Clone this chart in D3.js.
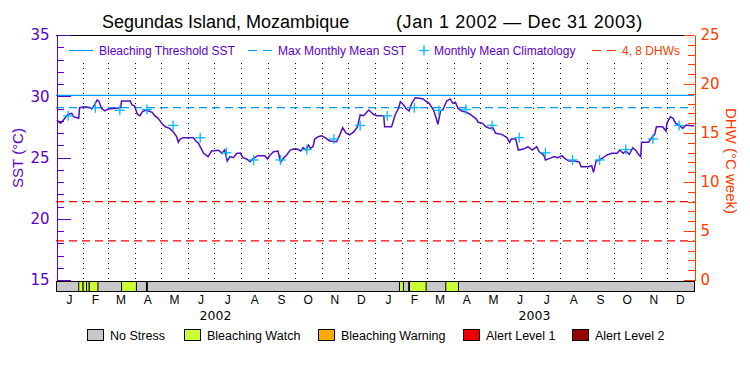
<!DOCTYPE html>
<html>
<head>
<meta charset="utf-8">
<script src="https://cdn.jsdelivr.net/npm/d3@7"></script>
<style>
  body { margin: 0; background: #fff; }
  svg { display: block; }
</style>
</head>
<body>
<div id="chart"></div>
<script>
// SST time series: day offset from Jan 1 2002, SST in °C
const sstDays = [1,5,7,10,14,18,20,24,26,27,33,39,41,44,47,49,52,56,60,69,74,75,85,87,90,93,96,99,103,106,110,113,117,121,125,130,134,138,140,142,146,157,160,163,166,169,174,178,186,190,193,196,199,203,207,211,214,218,222,226,231,239,242,245,249,254,257,260,264,268,272,277,280,283,286,289,291,294,296,300,304,308,313,321,325,328,332,336,341,345,348,352,356,358,363,367,375,376,384,388,392,394,397,401,404,407,411,416,420,423,427,432,435,437,440,443,447,451,454,457,460,464,470,476,481,483,488,492,496,500,503,510,516,519,521,526,529,535,540,545,550,553,558,560,565,570,574,579,582,587,594,599,601,609,613,615,618,622,626,630,636,642,645,649,652,656,660,664,667,669,670,678,681,685,687,694,698,699,703,706,709,713,717,721,727,730];
const sstValues = [28.06,27.79,27.92,28.20,28.53,28.61,28.33,28.25,28.20,29.07,29.15,29.07,28.96,29.29,29.69,29.61,29.02,28.80,28.96,29.02,29.07,29.61,29.61,29.29,29.20,28.53,28.41,28.74,28.88,28.80,28.69,28.41,28.20,27.79,27.51,27.38,27.11,26.70,26.24,26.51,26.62,26.62,26.35,26.16,25.75,25.34,25.07,25.53,25.59,25.34,25.61,24.71,25.07,24.98,25.34,25.34,24.98,24.88,24.66,24.93,25.15,25.15,24.88,25.20,25.47,25.53,24.61,24.93,25.20,25.61,25.69,25.67,25.53,25.80,25.61,26.02,25.75,25.88,26.51,26.70,26.78,26.62,26.35,26.29,26.89,27.43,26.98,26.84,27.11,27.51,28.47,28.41,28.74,28.88,28.53,28.41,28.41,27.51,27.51,28.47,29.02,29.56,29.34,28.96,28.80,29.42,29.88,29.83,29.78,29.61,29.42,28.88,28.20,27.71,28.80,28.96,29.61,29.78,29.42,29.51,29.02,28.80,28.69,28.41,28.14,27.87,27.79,27.51,27.38,27.43,26.98,26.89,26.62,26.24,26.51,26.51,25.61,25.69,25.88,25.61,25.88,25.47,25.20,24.80,24.93,25.07,24.98,25.15,24.93,24.71,24.71,24.61,24.25,24.25,24.33,23.79,24.71,24.80,24.98,25.20,25.34,25.34,25.61,25.34,25.53,25.26,25.80,25.53,25.20,25.07,26.24,26.24,26.57,26.89,27.51,27.51,27.16,27.79,28.33,28.20,27.79,27.65,27.38,27.65,27.60,27.60];

// Monthly mean climatology (Jan..Dec)
const climValues = [28.40, 29.07, 28.85, 28.92, 27.62, 26.62, 25.39, 24.80, 24.80, 25.65, 26.51, 27.62];
const maxMonthlyMean = 29.07;
const bleachingThreshold = 30.07;
const dhwLevels = [4, 8];

// Stress bar segments: [start day, end day, level]
const stressSegments = [
  [26, 31, 1], [31, 35, 1], [35, 38, 1], [38, 48, 1],
  [75, 92, 1], [103.5, 104.5, 1],
  [393, 397.5, 1], [403.5, 404.5, 1], [404.5, 423.5, 1], [446, 460.5, 1]
];

const monthLabels = ["J", "F", "M", "A", "M", "J", "J", "A", "S", "O", "N", "D"];
const years = [2002, 2003];
const stressNames = ["No Stress", "Bleaching Watch", "Bleaching Warning", "Alert Level 1", "Alert Level 2"];
const stressColors = ["#c8c8c8", "#ccff33", "#ffaa00", "#ee0000", "#990000"];

const purple = "#5a00cc";
const lineColor = "#5010c0";
const blue = "#0099ff";
const cyan = "#00bbff";
const orange = "#ff3c00";

const width = 750, height = 375;
const plot = { left: 56, right: 694, top: 35, bottom: 280 };

const start = new Date(Date.UTC(2002, 0, 1));
const dayToDate = d => new Date(start.getTime() + d * 864e5);

const svg = d3.select("#chart").append("svg")
  .attr("width", width)
  .attr("height", height)
  .style("font-family", "'Liberation Sans', Arial, sans-serif");

const x = d3.scaleUtc()
  .domain([start, new Date(Date.UTC(2004, 0, 1))])
  .range([plot.left, plot.right]);
const ySST = d3.scaleLinear().domain([15, 35]).range([plot.bottom, plot.top]);
const yDHW = d3.scaleLinear().domain([0, 25]).range([plot.bottom, plot.top]);

// Title
svg.append("text").attr("x", 102).attr("y", 28).attr("font-size", 18)
  .text("Segundas Island, Mozambique");
svg.append("text").attr("x", 396).attr("y", 28).attr("font-size", 18)
  .attr("letter-spacing", 0.6)
  .text("(Jan 1 2002 \u2014 Dec 31 2003)");

// Month boundary dotted lines
const monthStarts = d3.utcMonth.range(new Date(Date.UTC(2002, 1, 1)), new Date(Date.UTC(2004, 0, 1)));
svg.append("g").selectAll("line")
  .data(monthStarts)
  .join("line")
  .attr("x1", d => Math.round(x(d)) + 0.5)
  .attr("x2", d => Math.round(x(d)) + 0.5)
  .attr("y1", 63)
  .attr("y2", plot.bottom)
  .attr("stroke", "#000")
  .attr("stroke-dasharray", "1,4");

// Threshold lines
svg.append("line")
  .attr("x1", plot.left).attr("x2", plot.right)
  .attr("y1", ySST(bleachingThreshold)).attr("y2", ySST(bleachingThreshold))
  .attr("stroke", blue).attr("stroke-width", 1.2);
svg.append("line")
  .attr("x1", plot.left).attr("x2", plot.right)
  .attr("y1", ySST(maxMonthlyMean)).attr("y2", ySST(maxMonthlyMean))
  .attr("stroke", blue).attr("stroke-width", 1.2).attr("stroke-dasharray", "8,5");

svg.append("g").selectAll("line")
  .data(dhwLevels)
  .join("line")
  .attr("x1", plot.left).attr("x2", plot.right)
  .attr("y1", d => yDHW(d)).attr("y2", d => yDHW(d))
  .attr("stroke", "#ff0000").attr("stroke-width", 1.2).attr("stroke-dasharray", "8,5");

// SST line
const sstData = d3.zip(sstDays, sstValues);
svg.append("path")
  .datum(sstData)
  .attr("fill", "none")
  .attr("stroke", lineColor)
  .attr("stroke-width", 1.5)
  .attr("d", d3.line().x(d => x(dayToDate(d[0]))).y(d => ySST(d[1])));

// Climatology crosses at mid-month
const climData = [];
years.forEach(yr => climValues.forEach((v, m) => {
  climData.push({ date: new Date(Date.UTC(yr, m, 15)), v });
}));
const cross = svg.append("g").selectAll("g")
  .data(climData)
  .join("g")
  .attr("transform", d => `translate(${x(d.date)},${ySST(d.v)})`)
  .attr("stroke", cyan).attr("stroke-width", 1.3);
cross.append("line").attr("x1", -5).attr("x2", 5);
cross.append("line").attr("y1", -5).attr("y2", 5);

// Frame top
svg.append("line")
  .attr("x1", plot.left).attr("x2", plot.right)
  .attr("y1", plot.top + 0.5).attr("y2", plot.top + 0.5)
  .attr("stroke", "#000");

// Left axis
const gLeft = svg.append("g").attr("transform", `translate(${plot.left + 0.5},0)`)
  .attr("shape-rendering", "crispEdges");
gLeft.append("g")
  .call(d3.axisLeft(ySST).tickValues(d3.range(15, 36)).tickSize(-7).tickSizeOuter(0).tickFormat(""));
gLeft.append("g")
  .call(d3.axisLeft(ySST).tickValues(d3.range(15, 36, 5)).tickSize(-14).tickSizeOuter(0).tickPadding(7));
gLeft.selectAll("path, line").attr("stroke", purple);
gLeft.selectAll("text").attr("fill", purple)
  .style("font-family", "'DejaVu Sans', sans-serif").attr("font-size", 15);

// Right axis
const gRight = svg.append("g").attr("transform", `translate(${plot.right + 0.5},0)`)
  .attr("shape-rendering", "crispEdges");
gRight.append("g")
  .call(d3.axisRight(yDHW).tickValues(d3.range(0, 26)).tickSize(-7).tickSizeOuter(0).tickFormat(""));
gRight.append("g")
  .call(d3.axisRight(yDHW).tickValues(d3.range(0, 26, 5)).tickSize(-11).tickSizeOuter(0).tickPadding(6));
gRight.selectAll("path, line").attr("stroke", orange);
gRight.selectAll("text").attr("fill", orange)
  .style("font-family", "'DejaVu Sans', sans-serif").attr("font-size", 15);

// Axis titles
svg.append("text")
  .attr("transform", `translate(23,158) rotate(-90)`)
  .attr("text-anchor", "middle").attr("fill", purple).attr("font-size", 15)
  .text("SST (\u00B0C)");
svg.append("text")
  .attr("transform", `translate(726,161) rotate(90)`)
  .attr("text-anchor", "middle").attr("fill", orange).attr("font-size", 15)
  .text("DHW (\u00B0C week)");

// Stress bar
const barTop = 281, barH = 10;
svg.append("rect")
  .attr("x", plot.left + 0.5).attr("y", barTop + 0.5)
  .attr("width", plot.right - plot.left).attr("height", barH)
  .attr("fill", stressColors[0]).attr("stroke", "#000");
svg.append("g").selectAll("rect")
  .data(stressSegments)
  .join("rect")
  .attr("x", d => x(dayToDate(d[0])))
  .attr("y", barTop + 0.5)
  .attr("width", d => x(dayToDate(d[1])) - x(dayToDate(d[0])))
  .attr("height", barH)
  .attr("fill", d => stressColors[d[2]])
  .attr("stroke", "#000");

// Month labels
const monthsAll = d3.utcMonth.range(start, new Date(Date.UTC(2004, 0, 1)));
svg.append("g").selectAll("text")
  .data(monthsAll)
  .join("text")
  .attr("x", d => (x(d) + x(d3.utcMonth.offset(d, 1))) / 2)
  .attr("y", 304)
  .attr("text-anchor", "middle")
  .attr("font-size", 12)
  .text(d => monthLabels[d.getUTCMonth()]);

// Year labels
svg.append("g").selectAll("text")
  .data(years)
  .join("text")
  .attr("x", d => (x(new Date(Date.UTC(d, 0, 1))) + x(new Date(Date.UTC(d + 1, 0, 1)))) / 2)
  .attr("y", 320)
  .attr("text-anchor", "middle")
  .style("font-family", "'DejaVu Sans', sans-serif")
  .attr("font-size", 12.5)
  .text(d => d);

// Top legend
const legTop = svg.append("g").attr("font-size", 12);
legTop.append("line").attr("x1", 69).attr("x2", 93).attr("y1", 50.5).attr("y2", 50.5)
  .attr("stroke", blue).attr("stroke-width", 1.2);
legTop.append("text").attr("x", 99).attr("y", 55).attr("fill", purple).text("Bleaching Threshold SST");
legTop.append("line").attr("x1", 248).attr("x2", 273).attr("y1", 50.5).attr("y2", 50.5)
  .attr("stroke", blue).attr("stroke-width", 1.2).attr("stroke-dasharray", "9,6");
legTop.append("text").attr("x", 278).attr("y", 55).attr("fill", purple).text("Max Monthly Mean SST");
legTop.append("line").attr("x1", 419).attr("x2", 429).attr("y1", 50.5).attr("y2", 50.5)
  .attr("stroke", cyan).attr("stroke-width", 1.3);
legTop.append("line").attr("x1", 424).attr("x2", 424).attr("y1", 45.5).attr("y2", 55.5)
  .attr("stroke", cyan).attr("stroke-width", 1.3);
legTop.append("text").attr("x", 434).attr("y", 55).attr("fill", purple).text("Monthly Mean Climatology");
legTop.append("line").attr("x1", 592).attr("x2", 616).attr("y1", 50.5).attr("y2", 50.5)
  .attr("stroke", orange).attr("stroke-width", 1.2).attr("stroke-dasharray", "9,6");
legTop.append("text").attr("x", 622).attr("y", 55).attr("fill", orange).text("4, 8 DHWs");

// Bottom legend
const legX = [87, 184, 318, 463, 572];
const legBottom = svg.append("g").attr("font-size", 12.5)
  .selectAll("g")
  .data(stressNames)
  .join("g")
  .attr("transform", (d, i) => `translate(${legX[i]},329)`);
legBottom.append("rect")
  .attr("x", 0.5).attr("y", 0.5).attr("width", 16).attr("height", 11)
  .attr("fill", (d, i) => stressColors[i]).attr("stroke", "#000");
legBottom.append("text").attr("x", 23).attr("y", 11).text(d => d);
</script>
</body>
</html>
